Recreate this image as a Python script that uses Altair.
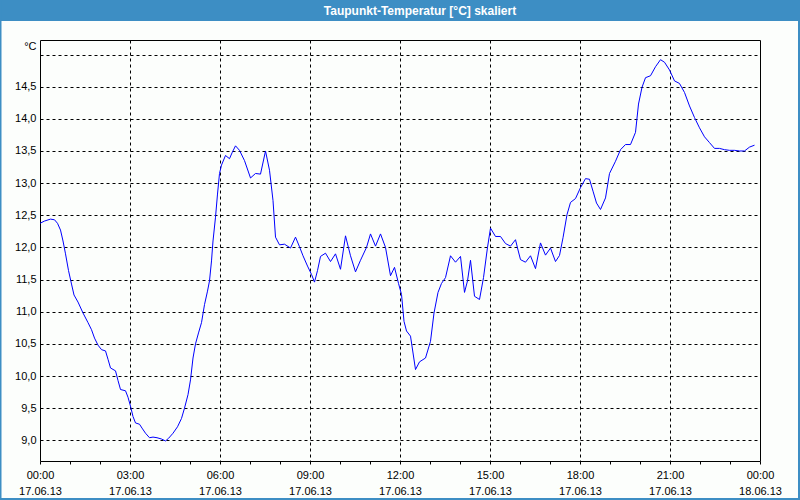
import altair as alt
import pandas as pd

TITLE = "Taupunkt-Temperatur [°C] skaliert"
UNIT = "°C"

# time of day in minutes after 00:00 on 17.06.13
minutes = [0, 9, 21, 29, 35, 41, 46, 51, 57, 63, 68, 76, 86, 96, 103, 109, 116, 123, 131, 136,
           141, 151, 156, 161, 171, 176, 181, 186, 191, 199, 204, 211, 219, 226, 234, 243, 251, 257,
           266, 275, 283, 289, 296, 301, 306, 311, 317, 323, 329, 335, 339, 343, 346, 351, 355, 359,
           363, 371, 379, 384, 391, 399, 409, 421, 431, 441, 451, 459, 466, 471, 479, 489, 501, 511,
           519, 526, 535, 543, 549, 555, 561, 571, 581, 591, 601, 611, 621, 631, 641, 653, 661, 671,
           681, 691, 701, 709, 717, 723, 728, 733, 741, 751, 759, 771, 781, 788, 796, 803, 811, 821,
           831, 841, 849, 855, 861, 869, 879, 887, 895, 901, 911, 921, 931, 941, 951, 956, 961, 971,
           981, 991, 1001, 1011, 1021, 1031, 1039, 1046, 1054, 1061, 1071, 1081, 1091, 1099, 1106,
           1113, 1121, 1131, 1139, 1151, 1161, 1171, 1181, 1191, 1197, 1204, 1211, 1221, 1231, 1241,
           1249, 1259, 1269, 1279, 1289, 1299, 1309, 1319, 1329, 1339, 1349, 1359, 1369, 1379, 1389,
           1399, 1409, 1419, 1429]
values = [12.375, 12.41, 12.44, 12.43, 12.375, 12.27, 12.10, 11.90, 11.64, 11.43, 11.26, 11.15,
          10.98, 10.83, 10.72, 10.59, 10.48, 10.41, 10.39, 10.26, 10.125, 10.08, 9.93, 9.79, 9.77,
          9.67, 9.53, 9.37, 9.27, 9.25, 9.19, 9.11, 9.04, 9.05, 9.04, 9.02, 8.99, 9.03, 9.11, 9.21,
          9.34, 9.50, 9.71, 9.94, 10.28, 10.5, 10.67, 10.83, 11.11, 11.32, 11.48, 11.79, 12.10, 12.47,
          12.83, 13.15, 13.28, 13.43, 13.38, 13.47, 13.58, 13.51, 13.35, 13.08, 13.15, 13.14, 13.5,
          13.2, 12.73, 12.16, 12.04, 12.05, 11.99, 12.16, 12.01, 11.87, 11.71, 11.58, 11.46, 11.64,
          11.86, 11.91, 11.78, 11.9, 11.66, 12.18, 11.87, 11.62, 11.80, 12.0, 12.21, 12.02, 12.21,
          12.0, 11.56, 11.69, 11.44, 11.27, 10.85, 10.70, 10.62, 10.10, 10.22, 10.28, 10.54, 10.98,
          11.30, 11.44, 11.53, 11.87, 11.77, 11.86, 11.30, 11.48, 11.80, 11.24, 11.19, 11.53, 12.0,
          12.30, 12.17, 12.17, 12.06, 12.02, 12.12, 11.96, 11.81, 11.77, 11.87, 11.67, 12.07, 11.88,
          11.99, 11.78, 11.875, 12.15, 12.51, 12.70, 12.76, 12.93, 13.07, 13.06, 12.875, 12.69,
          12.59, 12.77, 13.15, 13.34, 13.52, 13.60, 13.60, 13.79, 14.23, 14.49, 14.64, 14.67, 14.81,
          14.92, 14.88, 14.76, 14.59, 14.55, 14.41, 14.20, 14.02, 13.86, 13.72, 13.63, 13.54, 13.54,
          13.52, 13.51, 13.51, 13.50, 13.50, 13.56, 13.59]

x_ticks = list(range(25))                 # hours
y_ticks = [9.0 + 0.5 * i for i in range(13)]  # 9,0 ... 15,0

df = pd.DataFrame({"h": [m / 60 for m in minutes], "v": values})

FONT = "Liberation Sans"
BLUE = "#3d8ec4"
W, H = 720, 421

x_axis = alt.Axis(
    values=x_ticks,
    domain=False,
    ticks=True, tickSize=3, tickColor="black", tickWidth=1,
    labelExpr="datum.value % 3 == 0 ? [((datum.value % 24) < 10 ? '0' : '') + (datum.value % 24) + ':00', datum.value >= 24 ? '18.06.13' : '17.06.13'] : ''",
    labelFont=FONT, labelFontSize=11, labelColor="black", labelPadding=5,
    labelLineHeight=16, labelFlush=False, labelOverlap=False, labelBound=False,
    grid=True, gridDash=[3, 3], gridColor="black", gridWidth=1,
    gridOpacity={"condition": {"test": "datum.value % 3 == 0 && datum.value > 0 && datum.value < 24", "value": 1}, "value": 0},
    title=None,
)

y_axis = alt.Axis(
    values=y_ticks,
    domain=False, ticks=False,
    labelExpr="datum.value > 14.9 ? '' : replace(format(datum.value, '.1f'), '.', ',')",
    labelFont=FONT, labelFontSize=11, labelColor="black", labelPadding=4,
    labelOverlap=False, labelBound=False, labelFlush=False,
    grid=True, gridDash=[3, 3], gridColor="black", gridWidth=1, gridOpacity=1,
    title=UNIT, titleAngle=0, titleX=-4, titleY=6, titleAlign="right",
    titleBaseline="middle", titleFont=FONT, titleFontSize=11, titleFontWeight="normal",
    titleColor="black",
)

line = alt.Chart(df).mark_line(color="#0000ff", strokeWidth=1, clip=True).encode(
    x=alt.X("h:Q", scale=alt.Scale(domain=[0, 24], nice=False, zero=False), axis=x_axis),
    y=alt.Y("v:Q", scale=alt.Scale(domain=[8.678, 15.226], nice=False, zero=False), axis=y_axis),
)

one = alt.Data(values=[{"t": TITLE}])

title_bar = alt.Chart(one).mark_rect(color=BLUE).encode(
    x=alt.value(-40), x2=alt.value(760), y=alt.value(-40), y2=alt.value(-19)
)
title_text = alt.Chart(one).mark_text(
    color="white", font=FONT, fontSize=12, fontWeight="bold", align="center", baseline="middle"
).encode(text="t:N", x=alt.value(380), y=alt.value(-29.5))
frame = alt.Chart(one).mark_rect(filled=False, stroke=BLUE, strokeWidth=2).encode(
    x=alt.value(-39.5), x2=alt.value(759), y=alt.value(-40), y2=alt.value(459)
)

chart = alt.layer(title_bar, frame, title_text, line).properties(
    width=W, height=H,
    autosize=alt.AutoSizeParams(type="none"),
    padding={"left": 40, "top": 40, "right": 40, "bottom": 39},
    background="#fcfefc",
).configure_view(stroke="black", strokeWidth=1)

chart.save("out.html", embed_options={"renderer": "svg", "actions": False})
